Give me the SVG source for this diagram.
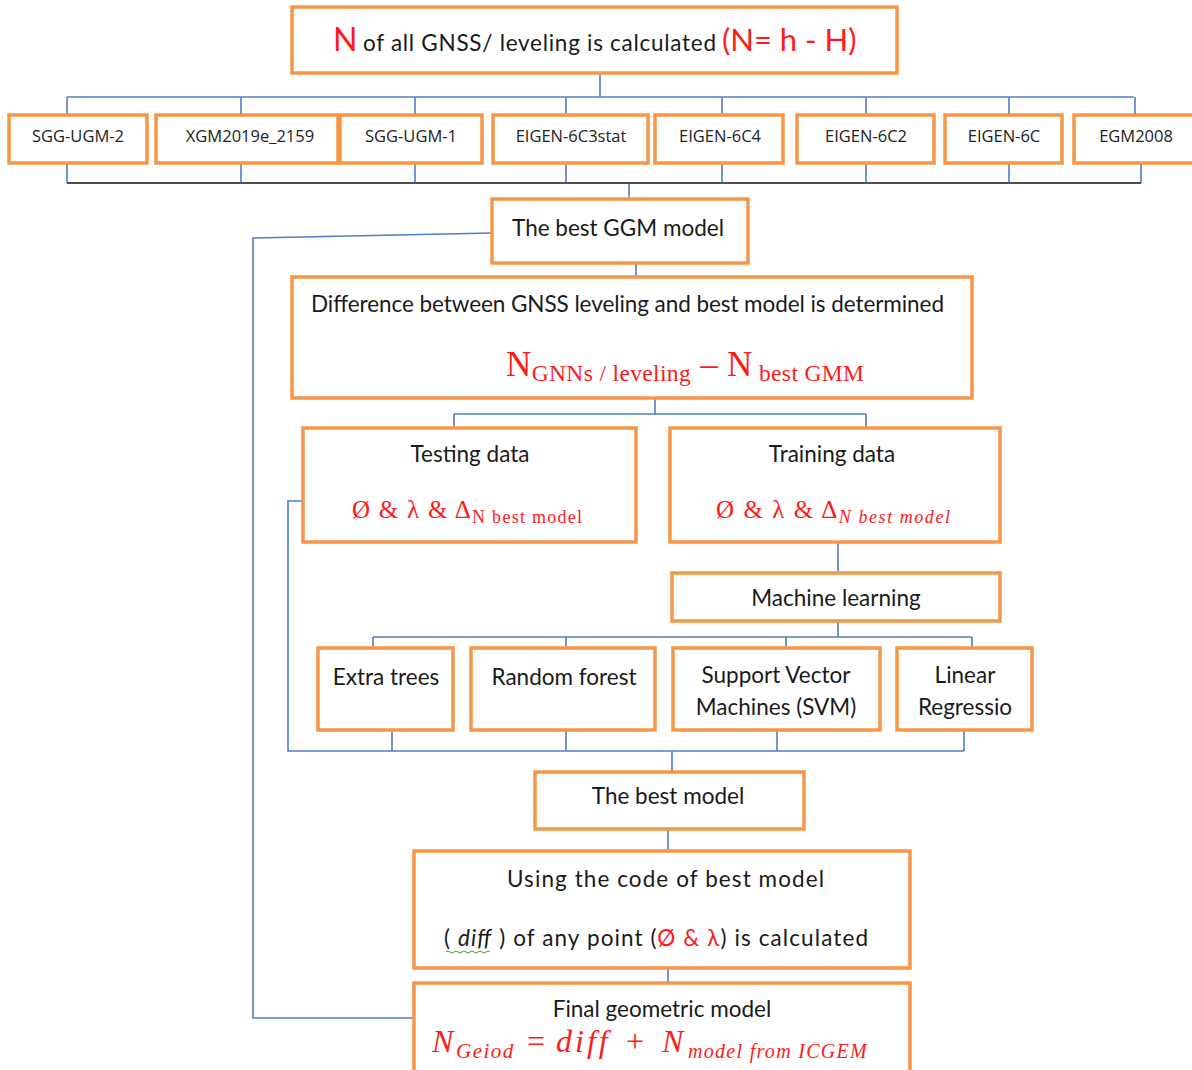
<svg xmlns="http://www.w3.org/2000/svg" width="1192" height="1070" viewBox="0 0 1192 1070">
<style>
.box{fill:#fff;stroke:#F79646;stroke-width:3.5}
.ln{fill:none;stroke:#4F7EC4;stroke-width:1.6}
.dk{fill:none;stroke:#505050;stroke-width:2.2}
.t{font-family:Lato,"Open Sans",sans-serif;font-size:22.5px;fill:#1a1a1a}
.s{font-family:"Open Sans",Lato,sans-serif;font-size:16.5px;fill:#222;text-anchor:middle}
.c{text-anchor:middle}
.r{fill:#FF1A1A}
.m{font-family:"Liberation Serif",serif;fill:#FF1A1A}
.mi{font-family:"Liberation Serif",serif;font-style:italic;fill:#FF1A1A}
</style>
<rect width="1192" height="1070" fill="#fff"/>
<g id="connectors">
<path class="ln" d="M600 73V97M67 97H1134M67 97V115M241 97V115M415 97V115M566 97V115M722 97V115M866 97V115M1009 97V115M1135 97V115"/>
<path class="ln" d="M67 163V183M241 163V183M415 163V183M566 163V183M722 163V183M866 163V183M1009 163V183M1141 163V183M629 183V199"/>
<path class="dk" d="M67 183H1141"/>
<path class="ln" d="M492 233L253 238V1018H414"/>
<path class="ln" d="M636 263V277"/>
<path class="ln" d="M655 398V414M454 414H866M454 414V428M866 414V428"/>
<path class="ln" d="M838 542V573"/>
<path class="ln" d="M838 621V637M373 637H972M373 637V648M566 637V648M786 637V648M972 637V648"/>
<path class="ln" d="M303 501H288V751H964M392 730V751M566 730V751M777 730V751M964 730V751"/>
<path class="ln" d="M672 751V772M668 829V851M668 968V983"/>
</g>
<g id="n-top">
<rect class="box" x="292" y="7" width="605" height="66"/>
<text class="t" x="333" y="51"><tspan class="r" font-size="32">N</tspan><tspan x="363" textLength="353">of all GNSS/ leveling is calculated</tspan><tspan class="r" x="722" font-size="31">(N= h - H)</tspan></text>
</g>
<g id="n-sgg2"><rect class="box" x="9" y="115" width="138" height="48"/><text class="s" x="78" y="142">SGG-UGM-2</text></g>
<g id="n-xgm"><rect class="box" x="156" y="115" width="182" height="48"/><text class="s" x="250" y="142">XGM2019e_2159</text></g>
<g id="n-sgg1"><rect class="box" x="340" y="115" width="142" height="48"/><text class="s" x="411" y="142">SGG-UGM-1</text></g>
<g id="n-e6c3"><rect class="box" x="493" y="115" width="155" height="48"/><text class="s" x="571" y="142">EIGEN-6C3stat</text></g>
<g id="n-e6c4"><rect class="box" x="655" y="115" width="128" height="48"/><text class="s" x="720" y="142">EIGEN-6C4</text></g>
<g id="n-e6c2"><rect class="box" x="797" y="115" width="137" height="48"/><text class="s" x="866" y="142">EIGEN-6C2</text></g>
<g id="n-e6c"><rect class="box" x="945" y="115" width="117" height="48"/><text class="s" x="1004" y="142">EIGEN-6C</text></g>
<g id="n-egm"><rect class="box" x="1074" y="115" width="120" height="48"/><text class="s" x="1136" y="142">EGM2008</text></g>
<g id="n-bestggm"><rect class="box" x="492" y="199" width="256" height="64"/><text class="t c" x="618" y="236">The best GGM model</text></g>
<g id="n-diff">
<rect class="box" x="292" y="277" width="680" height="121"/>
<text class="t" x="311" y="312" textLength="633">Difference between GNSS leveling and best model is determined</text>
<text class="m" x="506" y="376" textLength="358"><tspan font-size="35">N</tspan><tspan font-size="23.5" dy="5">GNNs / leveling</tspan><tspan font-size="35" dy="-5"> – N</tspan><tspan font-size="23.5" dy="5"> best GMM</tspan></text>
</g>
<g id="n-test">
<rect class="box" x="303" y="428" width="333" height="114"/>
<text class="t c" x="470" y="462">Testing data</text>
<text class="m" x="352" y="518" textLength="230"><tspan font-size="25">Ø &amp; λ &amp; Δ</tspan><tspan font-size="18" dy="5">N best model</tspan></text>
</g>
<g id="n-train">
<rect class="box" x="670" y="428" width="330" height="114"/>
<text class="t c" x="832" y="462">Training data</text>
<text class="m" x="716" y="518" textLength="234"><tspan font-size="25">Ø &amp; λ &amp; Δ</tspan><tspan font-size="18" dy="5" font-style="italic">N best model</tspan></text>
</g>
<g id="n-ml"><rect class="box" x="672" y="573" width="328" height="48"/><text class="t c" x="836" y="606">Machine learning</text></g>
<g id="n-et"><rect class="box" x="318" y="648" width="135" height="82"/><text class="t c" x="386" y="685">Extra trees</text></g>
<g id="n-rf"><rect class="box" x="471" y="648" width="184" height="82"/><text class="t c" x="564" y="685">Random forest</text></g>
<g id="n-svm"><rect class="box" x="673" y="648" width="207" height="82"/><text class="t c" x="776" y="683">Support Vector</text><text class="t c" x="776" y="715">Machines (SVM)</text></g>
<g id="n-lr"><rect class="box" x="897" y="648" width="135" height="82"/><text class="t c" x="965" y="683">Linear</text><text class="t c" x="965" y="715">Regressio</text></g>
<g id="n-bestmodel"><rect class="box" x="535" y="772" width="269" height="57"/><text class="t c" x="668" y="804">The best model</text></g>
<g id="n-using">
<rect class="box" x="414" y="851" width="496" height="117"/>
<text class="t" x="507" y="887" textLength="317">Using the code of best model</text>
<text class="t" x="444" y="946" textLength="424">( <tspan font-style="italic">diff</tspan> ) of any point (<tspan class="r">Ø &amp; λ</tspan>) is calculated</text>
<path d="M446 952q2-2 4 0t4 0t4 0t4 0t4 0t4 0t4 0t4 0t4 0t4 0t4 0" fill="none" stroke="#3a9a3a" stroke-width="1"/>
</g>
<g id="n-final">
<rect class="box" x="414" y="983" width="496" height="92"/>
<text class="t c" x="662" y="1017">Final geometric model</text>
<text class="mi" y="1052"><tspan x="432" font-size="32">N</tspan><tspan x="456" y="1058" font-size="21" letter-spacing="1.5">Geiod</tspan><tspan x="527" y="1052" font-size="32" font-style="normal">=</tspan><tspan x="556" font-size="32" letter-spacing="3">diff</tspan><tspan x="626" font-size="32" font-style="normal">+</tspan><tspan x="662" font-size="32">N</tspan><tspan x="688" y="1058" font-size="20" letter-spacing="1.3">model from ICGEM</tspan></text>
</g>
</svg>
